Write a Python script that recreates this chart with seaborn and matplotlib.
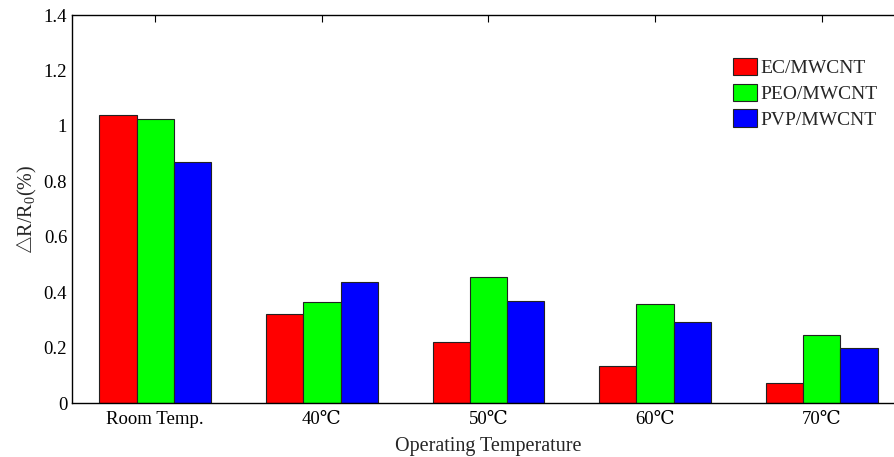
import matplotlib
matplotlib.use('Agg')
import matplotlib.pyplot as plt
import pandas as pd
import seaborn as sns
from matplotlib.patches import Patch

# data
temps = ['Room Temp.', '40℃', '50℃', '60℃', '70℃']
materials = ['EC/MWCNT', 'PEO/MWCNT', 'PVP/MWCNT']
ec_vals = [1.04, 0.32, 0.219, 0.134, 0.071]
peo_vals = [1.025, 0.364, 0.454, 0.358, 0.244]
pvp_vals = [0.869, 0.437, 0.369, 0.291, 0.198]
yticks = [0, 0.2, 0.4, 0.6, 0.8, 1.0, 1.2, 1.4]
colors = ['#ff0000', '#00ff00', '#0000ff']

df = pd.DataFrame({
    'temp': temps * 3,
    'material': [m for m in materials for _ in temps],
    'value': ec_vals + peo_vals + pvp_vals,
})

sns.set_style('white')
plt.rcParams['font.family'] = ['Liberation Serif', 'DejaVu Serif', 'Noto Sans CJK SC']
plt.rcParams['mathtext.fontset'] = 'custom'
plt.rcParams['mathtext.rm'] = 'Liberation Serif'
plt.rcParams['mathtext.it'] = 'Liberation Serif:italic'

fig = plt.figure(figsize=(8.95, 4.57), dpi=100)
# right spine sits just outside the canvas, like the cropped reference
ax = fig.add_axes([72 / 895, 54 / 457, 833 / 895, 388 / 457])

sns.barplot(data=df, x='temp', y='value', hue='material', palette=colors,
            width=0.67, edgecolor='#222222', linewidth=0.8, saturation=1,
            legend=False, ax=ax)

ax.set_xlim(-0.5, 4.5)
ax.set_ylim(0, 1.4)
ax.set_yticks(yticks)
ax.set_yticklabels([f'{v:g}' for v in yticks])
ax.tick_params(direction='in', length=5, width=0.8, top=True, right=True,
               labelsize=13.5, colors='black')
ax.tick_params(axis='x', pad=6)
for s in ax.spines.values():
    s.set_color('black')
    s.set_linewidth(1.0)

ax.set_xlabel('Operating Temperature', fontsize=14.5, labelpad=6)
ax.set_ylabel(r'$\bigtriangleup$R/R$_0$(%)', fontsize=14.5, labelpad=3)

handles = [Patch(facecolor=c, edgecolor='#222222', linewidth=0.8) for c in colors]
ax.legend(handles, materials, loc='upper left', bbox_to_anchor=(0.794, 0.889),
          frameon=False, fontsize=14, borderpad=0, borderaxespad=0,
          handlelength=1.2, handleheight=1.0, handletextpad=0.2, labelspacing=0.32)

fig.savefig('out.png', dpi=100)
